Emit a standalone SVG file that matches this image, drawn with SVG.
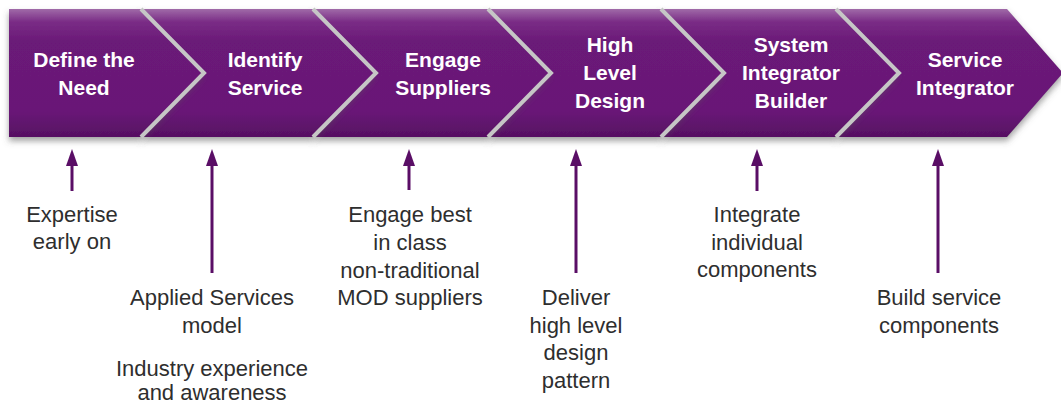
<svg xmlns="http://www.w3.org/2000/svg" width="1061" height="405" viewBox="0 0 1061 405">
<defs>
<linearGradient id="pg" x1="0" y1="0" x2="0" y2="1">
<stop offset="0" stop-color="#a06aa8"/>
<stop offset="0.1" stop-color="#7a2d86"/>
<stop offset="0.25" stop-color="#6b1a78"/>
<stop offset="0.8" stop-color="#691877"/>
<stop offset="1" stop-color="#561062"/>
</linearGradient>
<filter id="sh" x="-5%" y="-10%" width="110%" height="130%">
<feDropShadow dx="0" dy="4" stdDeviation="3" flood-color="#555" flood-opacity="0.55"/>
</filter>
<marker id="ah" viewBox="0 0 17 12" refX="6" refY="6" markerWidth="17" markerHeight="12" markerUnits="userSpaceOnUse" orient="auto">
<path d="M0,0 L17,6 L0,12 Z" fill="#5a0e66"/>
</marker>
</defs>
<style>
.chev{fill:url(#pg);filter:url(#sh);}
.sep{fill:none;stroke:#c6c6c6;stroke-width:4;stroke-linejoin:miter;}
.ht{font-family:"Liberation Sans",Arial,sans-serif;font-size:21px;font-weight:bold;fill:#ffffff;text-anchor:middle;}
.bt{font-family:"Liberation Sans",Arial,sans-serif;font-size:22px;fill:#2e2e2e;text-anchor:middle;}
.ar{stroke:#5a0e66;stroke-width:3;fill:none;}
</style>
<g id="chevrons">
<g id="n6"><polygon class="chev" points="1007,9 1007,9 1063,73 1007,137 835,137 898,73 835,9"/>
<text class="ht" x="965" y="67">Service</text><text class="ht" x="965" y="95">Integrator</text></g>
<g id="n5"><polygon class="chev" points="660,9 835,9 898,73 835,137 660,137 723,73"/>
<text class="ht" x="791" y="52">System</text><text class="ht" x="791" y="80">Integrator</text><text class="ht" x="791" y="108">Builder</text></g>
<g id="n4"><polygon class="chev" points="487,9 660,9 723,73 660,137 487,137 550,73"/>
<text class="ht" x="610" y="52">High</text><text class="ht" x="610" y="80">Level</text><text class="ht" x="610" y="108">Design</text></g>
<g id="n3"><polygon class="chev" points="312,9 487,9 550,73 487,137 312,137 375,73"/>
<text class="ht" x="443" y="67">Engage</text><text class="ht" x="443" y="95">Suppliers</text></g>
<g id="n2"><polygon class="chev" points="140,9 312,9 375,73 312,137 140,137 203,73"/>
<text class="ht" x="265" y="67">Identify</text><text class="ht" x="265" y="95">Service</text></g>
<g id="n1"><polygon class="chev" points="9,9 140,9 203,73 140,137 9,137"/>
<text class="ht" x="84" y="67">Define the</text><text class="ht" x="84" y="95">Need</text></g>
<g id="separators">
<polyline class="sep" points="141,9 204,73 141,137"/>
<polyline class="sep" points="313,9 376,73 313,137"/>
<polyline class="sep" points="488,9 551,73 488,137"/>
<polyline class="sep" points="661,9 724,73 661,137"/>
<polyline class="sep" points="836,9 899,73 836,137"/>
</g>
</g>
<g id="connectors">
<line class="ar" x1="72" y1="191" x2="72" y2="160" marker-end="url(#ah)"/>
<line class="ar" x1="212" y1="273" x2="212" y2="160" marker-end="url(#ah)"/>
<line class="ar" x1="409" y1="190" x2="409" y2="160" marker-end="url(#ah)"/>
<line class="ar" x1="576" y1="273" x2="576" y2="160" marker-end="url(#ah)"/>
<line class="ar" x1="757" y1="191" x2="757" y2="160" marker-end="url(#ah)"/>
<line class="ar" x1="938" y1="273" x2="938" y2="160" marker-end="url(#ah)"/>
</g>
<g id="labels">
<g id="l1"><text class="bt" x="72" y="222">Expertise</text><text class="bt" x="72" y="249">early on</text></g>
<g id="l2"><text class="bt" x="212" y="305">Applied Services</text><text class="bt" x="212" y="333">model</text>
<text class="bt" x="212" y="376">Industry experience</text><text class="bt" x="212" y="400">and awareness</text></g>
<g id="l3"><text class="bt" x="410" y="222">Engage best</text><text class="bt" x="410" y="250">in class</text><text class="bt" x="410" y="278">non-traditional</text><text class="bt" x="410" y="305">MOD suppliers</text></g>
<g id="l4"><text class="bt" x="576" y="305">Deliver</text><text class="bt" x="576" y="333">high level</text><text class="bt" x="576" y="360">design</text><text class="bt" x="576" y="388">pattern</text></g>
<g id="l5"><text class="bt" x="757" y="222">Integrate</text><text class="bt" x="757" y="250">individual</text><text class="bt" x="757" y="277">components</text></g>
<g id="l6"><text class="bt" x="939" y="305">Build service</text><text class="bt" x="939" y="333">components</text></g>
</g>
</svg>
